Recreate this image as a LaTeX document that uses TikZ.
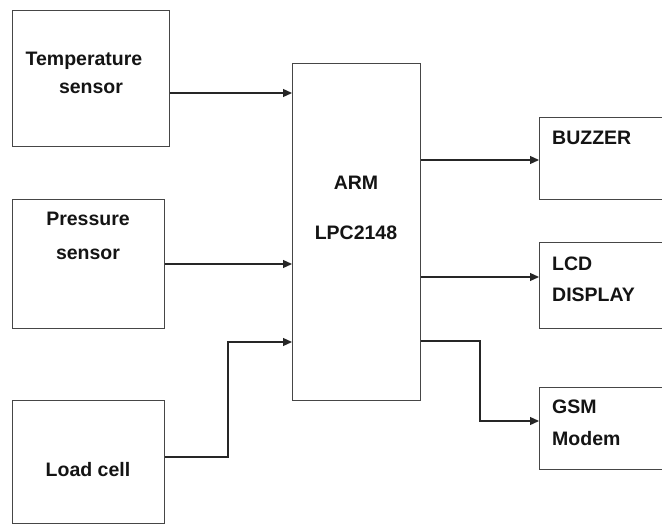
\documentclass[tikz,border=0pt]{standalone}
\usepackage{fontspec}
\setmainfont{Liberation Sans}
\usetikzlibrary{arrows.meta}
\definecolor{linec}{RGB}{70,70,70}
\definecolor{txtc}{RGB}{20,20,20}
\begin{document}
\begin{tikzpicture}[x=1pt,y=-1pt,
  box/.style={draw=linec, line width=1.4pt, anchor=north west, inner sep=0pt, fill=white},
  lbl/.style={font=\bfseries\fontsize{19.5}{28}\selectfont, text=txtc, inner sep=0pt},
  arr/.style={draw=black!85, line width=1.3pt, -{Triangle[length=9pt,width=8pt]}},
  ln/.style={draw=black!85, line width=1.3pt}]
\path[use as bounding box] (0,0) rectangle (662,524);
\clip (0,0) rectangle (662,524);
% boxes
\node[box, minimum width=157pt, minimum height=136pt] (temp) at (12,10) {};
\node[box, minimum width=152pt, minimum height=129pt] (press) at (12,199) {};
\node[box, minimum width=152pt, minimum height=123pt] (load) at (12,400) {};
\node[box, minimum width=128pt, minimum height=337pt] (arm) at (292,63) {};
\node[box, minimum width=140pt, minimum height=82pt] (buzz) at (539,117) {};
\node[box, minimum width=140pt, minimum height=86pt] (lcd) at (539,242) {};
\node[box, minimum width=140pt, minimum height=82pt] (gsm) at (539,387) {};
% labels
\node[lbl, align=center] (ttemp) at (84,73) {Temperature\\[0pt]\hspace*{14pt}sensor};
\node[lbl, align=center] (tpress) at (88,236) {Pressure\\[6pt]sensor};
\node[lbl] (tload) at (88,470) {Load cell};
\node[lbl, align=center] (tarm) at (356,208) {ARM\\[22pt]LPC2148};
\node[lbl, anchor=west] (tbuzz) at (552,138) {BUZZER};
\node[lbl, anchor=west, align=left] (tlcd) at (552,279) {LCD\\[3pt]DISPLAY};
\node[lbl, anchor=west, align=left] (tgsm) at (552,423) {GSM\\[4pt]Modem};
% connectors
\draw[arr] (temp.east |- 0,93) -- (arm.west |- 0,93);
\draw[arr] (press.east |- 0,264) -- (arm.west |- 0,264);
\draw[arr] (load.east |- 0,457) -- (228,457) -- (228,342) -- (arm.west |- 0,342);
\draw[arr] (arm.east |- 0,160) -- (buzz.west |- 0,160);
\draw[arr] (arm.east |- 0,277) -- (lcd.west |- 0,277);
\draw[arr] (arm.east |- 0,341) -- (480,341) -- (480,421) -- (gsm.west |- 0,421);
\end{tikzpicture}
\end{document}
